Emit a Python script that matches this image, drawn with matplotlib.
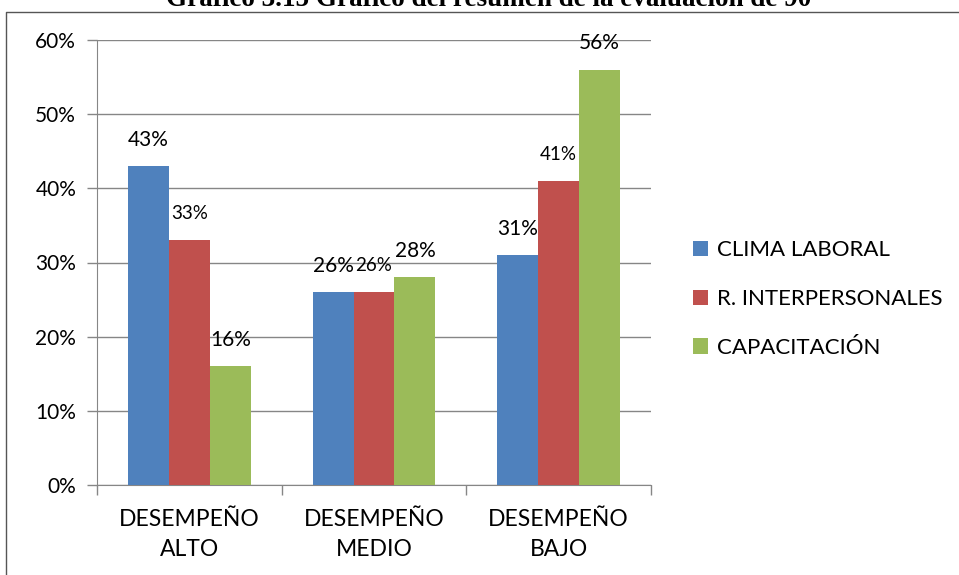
import numpy as np
import matplotlib
matplotlib.use("Agg")
import matplotlib.pyplot as plt
from matplotlib.lines import Line2D
from matplotlib.ticker import FixedLocator

# datos del gráfico
categorias = ["DESEMPEÑO\nALTO", "DESEMPEÑO\nMEDIO", "DESEMPEÑO\nBAJO"]
series = ["CLIMA LABORAL", "R. INTERPERSONALES", "CAPACITACIÓN"]
clima = [43, 26, 31]
relaciones = [33, 26, 41]
capacitacion = [16, 28, 56]
colores = ["#4f81bd", "#c0504d", "#9bbb59"]
titulo = "Gráfico 3.15 Gráfico del resumen de la evaluación de 90"

plt.rcParams['font.family'] = ['Lato', 'DejaVu Sans']

fig = plt.figure(figsize=(9.59, 5.75), dpi=100)
ax = fig.add_axes([97/959, 1-485/575, (651-97)/959, (485-40)/575])

x = np.arange(len(categorias))
w = 0.222
valores = [clima, relaciones, capacitacion]
tam = [15, 13.5, 15]
for i, (vals, nombre, col) in enumerate(zip(valores, series, colores)):
    barras = ax.bar(x + (i-1)*w, vals, w, color=col, label=nombre, zorder=3)
    for b, v in zip(barras, vals):
        ax.annotate(f"{v}%", (b.get_x()+b.get_width()/2, v), xytext=(0, 19),
                    textcoords="offset points", ha="center", va="center",
                    fontsize=tam[i], zorder=4)

gris = "#868686"
ax.set_xlim(-0.5, 2.5)
ax.set_ylim(0, 60)
ax.set_yticks(range(0, 61, 10))
ax.set_yticklabels([f"{v}%" for v in range(0, 61, 10)], fontsize=15)
ax.yaxis.grid(True, color=gris, linewidth=1, zorder=0)
ax.set_xticks(x)
ax.set_xticklabels(categorias, fontsize=16.5, linespacing=1.55)
ax.xaxis.set_minor_locator(FixedLocator([-0.5, 0.5, 1.5, 2.5]))
ax.tick_params(axis="x", which="major", length=0, pad=17)
ax.tick_params(axis="x", which="minor", length=7, color=gris, width=1)
ax.tick_params(axis="y", length=7, color=gris, width=1, pad=8)
for lado in ["top", "right"]:
    ax.spines[lado].set_visible(False)
for lado in ["left", "bottom"]:
    ax.spines[lado].set_color(gris)

ax.legend(loc="center left", bbox_to_anchor=(673/959, 1-299/575),
          bbox_transform=fig.transFigure, frameon=False, fontsize=16,
          handlelength=0.68, handleheight=0.68, handletextpad=0.4,
          labelspacing=1.3)

# marco y título recortado
fig.add_artist(Line2D([0.006, 0.006, 1.0], [0.0, 1-12/575, 1-12/575],
                      transform=fig.transFigure, color="#555555", linewidth=1))
fig.text(489/959, 1-6/575, titulo, ha="center", va="baseline", fontsize=19.5,
         fontweight="bold", family=["Liberation Serif", "DejaVu Serif"])

fig.savefig("out.png", dpi=100)
